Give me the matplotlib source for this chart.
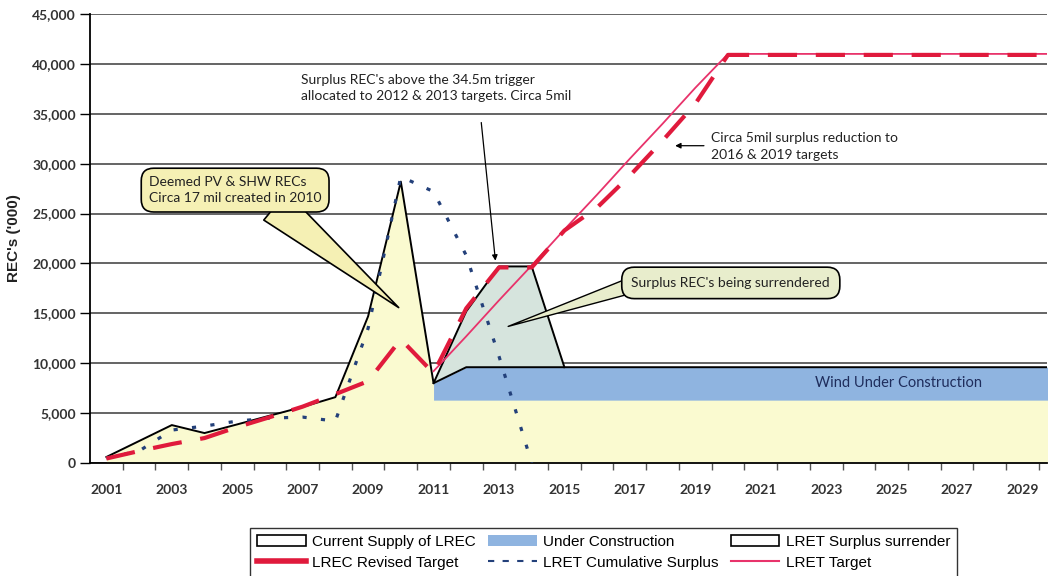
import numpy as np
import matplotlib
matplotlib.use("Agg")
import matplotlib.pyplot as plt
from matplotlib.patches import Patch
from matplotlib.lines import Line2D

# data, REC's ('000) per year
years = np.arange(2001, 2031)

supply = [600, 2200, 3800, 3000, 3870, 4750, 5620, 6600, 14700, 28200,
          8000] + [9600] * 19                                   # current supply + wind (stack top)
existing = [np.nan] * 10 + [6300] * 20                          # base of wind under construction
surplus = [0] * 10 + [0, 5600, 10100, 10100, 0] + [0] * 15      # LRET surplus surrender
revised = [450, 1200, 1900, 2500, 3600, 4600, 5650, 6900, 8200, 12400,
           9000, 15500, 19600, 19600, 23300, 25600, 28800, 32300, 36000, 40900] + [40900] * 10
target = [np.nan] * 10 + [9200, 12700, 16300, 19800, 23400, 26900, 30500, 34000,
                          37600, 41000] + [41000] * 10
cum_surplus = [500, 1200, 3300, 3700, 4200, 4500, 4600, 4200, 13500, 28700,
               27200, 20800, 10700, 0] + [np.nan] * 16

supply = np.array(supply, float)
existing = np.array(existing, float)
surplus_top = supply + np.array(surplus, float)

YELLOW = "#fafad0"
BLUE = "#8fb4e0"
TEAL = "#d6e4dd"
RED = "#e01a3c"
PINK = "#e8336b"
NAVY = "#23407a"

plt.rcParams['font.family'] = ['Lato', 'DejaVu Sans']

fig = plt.figure(figsize=(10.57, 5.76), dpi=100)
ax = fig.add_axes([90 / 1057, 1 - 463 / 576, (1047 - 90) / 1057, (463 - 14) / 576])

# areas
ax.fill_between(years, 0, supply, color=YELLOW, lw=0, zorder=1)
ax.fill_between(years, existing, supply, where=years >= 2011, color=BLUE, lw=0, zorder=2)
sur = (years >= 2011) & (years <= 2015)
ax.fill_between(years[sur], supply[sur], surplus_top[sur], color=TEAL, lw=0, zorder=2)
ax.plot(years, supply, color="black", lw=1.4, zorder=3)
ax.plot(years[sur], surplus_top[sur], color="black", lw=1.4, zorder=3)

# lines
ax.plot(years, cum_surplus, color=NAVY, lw=2.3, ls=(0, (1.3, 4.5)), zorder=4)
ax.plot(years, target, color=PINK, lw=1.3, zorder=5)
ax.plot(years, revised, color=RED, lw=3.0, ls=(0, (7, 4.5)), zorder=5)

# axes
ax.set_xlim(2000.5, 2029.75)
ax.set_ylim(0, 45000)
ax.set_yticks(np.arange(0, 45001, 5000))
ax.set_yticklabels([f"{v:,}" for v in range(0, 45001, 5000)])
ax.yaxis.grid(True, color="#3a3a3a", lw=1.1)
ax.set_axisbelow(True)
ax.set_xticks(np.arange(2001, 2030, 2))
ax.set_xticklabels([str(y) for y in range(2001, 2030, 2)])
ax.set_xticks(np.arange(2001.5, 2030, 1), minor=True)
ax.tick_params(axis="x", which="major", length=0, pad=15, labelsize=10, colors="#333333")
ax.tick_params(axis="x", which="minor", length=5, width=1, color="#555555")
ax.tick_params(axis="y", length=7, width=1, labelsize=10, labelcolor="#333333", pad=3)
for lab in ax.get_xticklabels() + ax.get_yticklabels():
    lab.set_fontweight("bold")
for s in ["top", "right"]:
    ax.spines[s].set_visible(False)
ax.spines["left"].set_linewidth(1.3)
ax.spines["bottom"].set_linewidth(1.3)
ax.set_ylabel("REC's ('000)", fontsize=11, fontweight="bold", family="Liberation Sans",
              color="#222222", labelpad=8)

# callouts
ax.annotate("Deemed PV & SHW RECs\nCirca 17 mil created in 2010",
            xy=(2010.0, 15400), xytext=(2002.3, 27350), va="center", ha="left",
            fontsize=10, color="#222222", linespacing=1.45, zorder=8,
            bbox=dict(boxstyle="round,pad=0.55,rounding_size=0.9", fc="#f5f0b4", ec="black", lw=1.2),
            arrowprops=dict(arrowstyle="wedge,tail_width=2.6,shrink_factor=0.5", fc="#f5f0b4",
                            ec="black", lw=1.2, relpos=(0.72, 0.0), patchA=None))
ax.annotate("Surplus REC's being surrendered",
            xy=(2013.2, 13600), xytext=(2017.05, 18050), va="center", ha="left",
            fontsize=10, color="#222222", zorder=8,
            bbox=dict(boxstyle="round,pad=0.7,rounding_size=0.9", fc="#e8edcc", ec="black", lw=1.2),
            arrowprops=dict(arrowstyle="wedge,tail_width=1.1,shrink_factor=0.5", fc="#e8edcc",
                            ec="black", lw=1.0, relpos=(0.0, 0.3), patchA=None))

ax.annotate("", xy=(2012.9, 20000), xytext=(2012.45, 34400),
            arrowprops=dict(arrowstyle="-|>", color="black", lw=0.9, mutation_scale=8), zorder=8)
ax.text(2006.95, 37600, "Surplus REC's above the 34.5m trigger\nallocated to 2012 & 2013 targets. Circa 5mil",
        fontsize=10, color="#222222", va="center", ha="left", linespacing=1.45, zorder=8)

ax.annotate("", xy=(2018.3, 31800), xytext=(2019.35, 31800),
            arrowprops=dict(arrowstyle="-|>", color="black", lw=0.9, mutation_scale=8), zorder=8)
ax.text(2019.47, 31700, "Circa 5mil surplus reduction to\n2016 & 2019 targets",
        fontsize=10, color="#222222", va="center", ha="left", linespacing=1.45, zorder=8)

ax.text(2025.2, 8050, "Wind Under Construction", fontsize=10.5, color="#1f2d5c",
        ha="center", va="center", zorder=8)

# legend
handles = [
    Patch(facecolor="white", edgecolor="black", lw=1.2),
    Line2D([], [], color=RED, lw=4),
    Patch(facecolor=BLUE, edgecolor="none"),
    Line2D([], [], color=NAVY, lw=1.5, ls=(0, (3, 4))),
    Patch(facecolor="white", edgecolor="black", lw=1.2),
    Line2D([], [], color=PINK, lw=1.5),
]
labels = ["Current Supply of LREC", "LREC Revised Target", "Under Construction",
          "LRET Cumulative Surplus", "LRET Surplus surrender", "LRET Target"]
leg = fig.legend(handles, labels, loc="upper left", bbox_to_anchor=(250 / 1057, 1 - 528 / 576),
                 ncol=3, prop={"family": "Liberation Sans", "size": 11},
                 frameon=True, fancybox=False, edgecolor="black", handlelength=3.2,
                 handleheight=0.7, columnspacing=0.8, handletextpad=0.4, labelspacing=0.45,
                 borderpad=0.45, borderaxespad=0)
leg.get_frame().set_linewidth(1.0)

fig.savefig("out.png", dpi=100)
